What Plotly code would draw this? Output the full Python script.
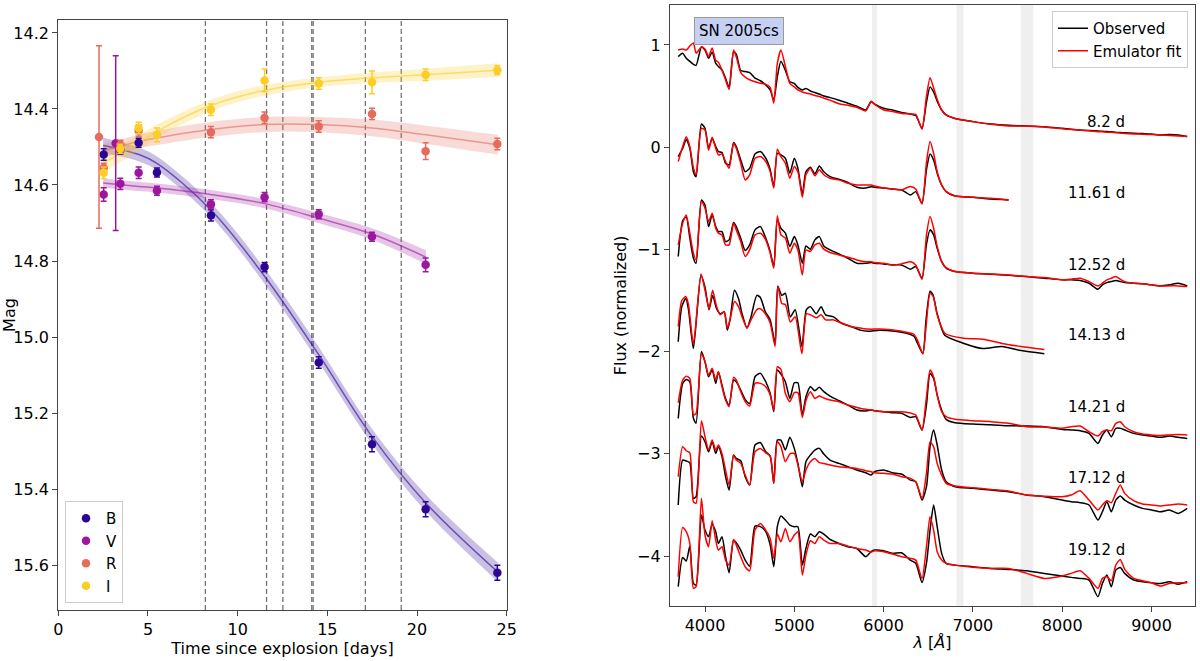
import plotly.graph_objects as go

# ---------------- light curves (left panel) ----------------
bands = ["B", "V", "R", "I"]
band_colors = {"B": (44, 5, 148), "V": (156, 23, 158), "R": (229, 107, 93), "I": (252, 205, 37)}

B_days = [2.53, 3.46, 4.48, 5.5, 8.51, 11.5, 14.52, 17.49, 20.48, 24.48]
B_mag = [14.52, 14.507, 14.489, 14.567, 14.68, 14.816, 15.067, 15.282, 15.453, 15.62]
B_err = [0.015, 0.012, 0.012, 0.012, 0.015, 0.012, 0.015, 0.02, 0.02, 0.02]

V_days = [2.53, 3.2, 3.46, 4.48, 5.5, 8.51, 11.5, 14.52, 17.49, 20.48]
V_mag = [14.625, 14.49, 14.597, 14.568, 14.615, 14.651, 14.632, 14.677, 14.736, 14.81]
V_err = [0.018, 0.23, 0.015, 0.015, 0.012, 0.012, 0.012, 0.012, 0.012, 0.018]

R_days = [2.27, 2.53, 3.46, 4.48, 8.51, 11.5, 14.52, 17.49, 20.48, 24.48]
R_mag = [14.474, 14.555, 14.494, 14.457, 14.461, 14.423, 14.446, 14.413, 14.511, 14.492]
R_err = [0.24, 0.012, 0.012, 0.015, 0.015, 0.015, 0.015, 0.015, 0.022, 0.015]

I_days = [2.53, 3.46, 4.48, 5.5, 8.51, 11.5, 14.52, 17.49, 20.48, 24.48]
I_mag = [14.568, 14.505, 14.45, 14.468, 14.402, 14.325, 14.333, 14.33, 14.31, 14.298]
I_err = [0.015, 0.012, 0.015, 0.018, 0.015, 0.03, 0.015, 0.03, 0.015, 0.012]

# emulator light-curve fits with 1-sigma half widths
fit_days = [2.5, 4.5, 5.5, 8.5, 11.5, 14.5, 17.5, 20.5, 24.5]
B_fit = [14.496, 14.52, 14.543, 14.665, 14.84, 15.045, 15.262, 15.437, 15.618]
B_sig = [0.02, 0.018, 0.018, 0.018, 0.02, 0.02, 0.02, 0.022, 0.025]
V_fit = [14.595, 14.604, 14.608, 14.625, 14.649, 14.687, 14.729, 14.79]
V_sig = [0.012, 0.012, 0.012, 0.012, 0.012, 0.013, 0.015, 0.018]
R_fit = [14.511, 14.485, 14.476, 14.454, 14.441, 14.441, 14.45, 14.468, 14.494]
R_sig = [0.018, 0.018, 0.019, 0.02, 0.02, 0.02, 0.022, 0.024, 0.026]
I_fit = [14.542, 14.489, 14.459, 14.391, 14.351, 14.33, 14.318, 14.31, 14.298]
I_sig = [0.025, 0.02, 0.018, 0.015, 0.014, 0.013, 0.014, 0.016, 0.018]

lc_obs = {"B": (B_days, B_mag, B_err), "V": (V_days, V_mag, V_err),
          "R": (R_days, R_mag, R_err), "I": (I_days, I_mag, I_err)}
lc_fit = {"B": (B_fit, B_sig), "V": (V_fit, V_sig), "R": (R_fit, R_sig), "I": (I_fit, I_sig)}

# spectral epochs (days since explosion)
spec_epochs = [8.2, 11.61, 12.52, 14.13, 14.21, 17.12, 19.12]
label_flux = [0.25, -0.45, -1.15, -1.84, -2.545, -3.24, -3.94]
telluric = [(5870, 5925), (6815, 6895), (7535, 7675)]

# ---------------- spectra (right panel) ----------------
wave = [3700, 3750, 3790, 3830, 3870, 3900, 3960, 4000, 4040, 4080, 4120, 4150, 4190, 4230,
        4270, 4320, 4350, 4400, 4450, 4500, 4560, 4620, 4680, 4730, 4770, 4810, 4850, 4900,
        4950, 5000, 5040, 5090, 5130, 5180, 5230, 5280, 5330, 5400, 5500,
        5600, 5700, 5800, 5860, 5900, 6000, 6100, 6200, 6300, 6360, 6430, 6480, 6520, 6560,
        6600, 6650, 6700, 6800, 7000, 7200, 7400,
        7600, 7800, 8000, 8100, 8200, 8300, 8400, 8450, 8500, 8550, 8600, 8650, 8700, 8800,
        8900, 9000, 9100, 9200, 9300, 9400]

obs_82 = [0.886, 0.918, 0.87, 0.84, 0.81, 0.80, 0.98, 0.95, 0.87, 0.93, 0.82, 0.79, 0.755, 0.675,
          0.585, 0.93, 0.91, 0.75, 0.74, 0.73, 0.675, 0.65, 0.61, 0.56, 0.46, 0.69, 0.84, 0.75,
          0.64, 0.625, 0.585, 0.56, 0.575, 0.55, 0.535, 0.52, 0.50, 0.485, 0.46,
          0.43, 0.40, 0.364, 0.445, 0.42, 0.38, 0.364, 0.34, 0.325, 0.31, 0.185, 0.44, 0.59, 0.54,
          0.45, 0.364, 0.315, 0.28, 0.25, 0.227, 0.214,
          0.207, 0.20, 0.184, 0.176, 0.168, 0.163, 0.158, 0.156, 0.153, 0.15, 0.146, 0.143, 0.14,
          0.136, 0.133, 0.13, 0.118, 0.125, 0.12, 0.104]
fit_82 = [0.95, 0.96, 0.95, 0.99, 1.02, 0.92, 0.98, 0.96, 0.885, 0.97, 0.85, 0.83, 0.755, 0.66,
          0.565, 0.95, 0.885, 0.73, 0.685, 0.66, 0.64, 0.625, 0.615, 0.585, 0.43, 0.82, 0.95, 0.79,
          0.625, 0.59, 0.56, 0.54, 0.53, 0.52, 0.505, 0.495, 0.48, 0.46, 0.425,
          0.41, 0.39, 0.355, 0.45, 0.42, 0.364, 0.35, 0.33, 0.325, 0.32, 0.175, 0.50, 0.68, 0.58,
          0.47, 0.364, 0.315, 0.28, 0.25, 0.224, 0.208,
          0.207, 0.198, 0.18, 0.173, 0.166, 0.16, 0.152, 0.15, 0.147, 0.145, 0.142, 0.138, 0.135,
          0.13, 0.127, 0.123, 0.12, 0.115, 0.11, 0.104]

obs_1161 = [-0.092, -0.011, 0.077, -0.011, -0.24, -0.29, 0.227, 0.185, -0.011, 0.087, 0.006, -0.043,
            -0.053, -0.157, -0.174, 0.045, 0.006, -0.125, -0.24, -0.206, -0.066, -0.043, -0.108,
            -0.22, -0.386, -0.06, -0.076, -0.108, -0.255, -0.108, -0.206, -0.46, -0.24, -0.197,
            -0.262, -0.184, -0.24, -0.288, -0.314,
            -0.346, -0.392, -0.40, -0.386, -0.392, -0.40, -0.41, -0.418, -0.467, -0.435, -0.55,
            -0.22, -0.066, -0.125, -0.255, -0.37, -0.435, -0.477, -0.49, -0.507, -0.516]
fit_1161 = [-0.141, 0.006, 0.103, 0.006, -0.2, -0.27, 0.185, 0.168, -0.03, 0.097, -0.011, -0.076,
            -0.066, -0.141, -0.206, 0.038, -0.011, -0.157, -0.32, -0.27, -0.108, -0.092, -0.141,
            -0.24, -0.40, -0.02, -0.092, -0.157, -0.304, -0.19, -0.24, -0.49, -0.27, -0.206, -0.28,
            -0.22, -0.27, -0.304, -0.32,
            -0.353, -0.37, -0.37, -0.37, -0.38, -0.40, -0.408, -0.418, -0.385, -0.41, -0.555,
            -0.15, 0.055, -0.06, -0.24, -0.37, -0.435, -0.477, -0.49, -0.50, -0.516]

obs_1252 = [-1.07, -0.72, -0.68, -0.89, -1.086, -1.135, -0.516, -0.565, -0.777, -0.663, -0.777,
            -0.826, -0.826, -0.924, -0.907, -0.738, -0.777, -0.89, -1.01, -0.956, -0.809, -0.777,
            -0.89, -1.021, -1.168, -0.71, -0.793, -0.842, -0.972, -0.875, -0.956, -1.135, -0.966,
            -0.998, -0.907, -0.875, -0.966, -1.005, -1.044,
            -1.087, -1.135, -1.135, -1.129, -1.135, -1.142, -1.152, -1.152, -1.194, -1.168, -1.282,
            -0.95, -0.809, -0.858, -0.989, -1.12, -1.184, -1.217, -1.233, -1.243, -1.253,
            -1.266, -1.282, -1.298, -1.298, -1.305, -1.331, -1.39, -1.347, -1.325, -1.315, -1.305,
            -1.315, -1.325, -1.331, -1.337, -1.347, -1.357, -1.347, -1.331, -1.357]
fit_1252 = [-0.956, -0.744, -0.663, -0.842, -1.038, -1.103, -0.532, -0.597, -0.728, -0.646, -0.793,
            -0.842, -0.858, -0.956, -0.956, -0.744, -0.809, -0.924, -1.07, -1.005, -0.858, -0.842,
            -0.907, -1.038, -1.184, -0.672, -0.858, -0.89, -1.038, -0.94, -1.005, -1.25, -1.005,
            -1.021, -0.956, -0.94, -0.998, -1.031, -1.054,
            -1.077, -1.103, -1.12, -1.12, -1.129, -1.135, -1.152, -1.142, -1.12, -1.152, -1.292,
            -0.86, -0.679, -0.793, -0.972, -1.12, -1.178, -1.217, -1.233, -1.24, -1.25,
            -1.266, -1.276, -1.298, -1.292, -1.282, -1.315, -1.357, -1.331, -1.298, -1.282, -1.266,
            -1.292, -1.315, -1.331, -1.337, -1.347, -1.357, -1.357, -1.357, -1.364]

# the 14.13 d spectrum was read on its own wavelength points
wave_1413 = [3700, 3740, 3785, 3815, 3870, 3955, 4000, 4045, 4085, 4130, 4170, 4215, 4250, 4280,
             4330, 4375, 4415, 4470, 4515, 4580, 4620, 4675, 4730, 4785, 4815, 4860, 4900, 4955,
             5010, 5085, 5135, 5180, 5245, 5300, 5350, 5440, 5525, 5650, 5740, 5825, 5955, 6125,
             6255, 6340, 6380, 6440, 6475, 6520, 6555, 6600, 6685, 6900, 7110, 7325, 7540, 7800]
obs_1413 = [-1.903, -1.56, -1.479, -1.59, -1.97, -1.25, -1.37, -1.59, -1.45, -1.58, -1.63, -1.61,
            -1.79, -1.69, -1.40, -1.48, -1.63, -1.77, -1.66, -1.45, -1.47, -1.61, -1.69, -1.92,
            -1.36, -1.45, -1.43, -1.66, -1.59, -1.95, -1.59, -1.56, -1.63, -1.56, -1.64, -1.66,
            -1.72, -1.76, -1.79, -1.80, -1.79, -1.80, -1.82, -1.85, -1.92, -2.02, -1.69, -1.41,
            -1.45, -1.63, -1.84, -1.92, -1.97, -1.95, -1.99, -2.02]
fit_1413 = [-1.756, -1.50, -1.46, -1.54, -1.93, -1.24, -1.40, -1.58, -1.40, -1.56, -1.64, -1.61,
            -1.77, -1.69, -1.51, -1.56, -1.66, -1.77, -1.69, -1.59, -1.58, -1.63, -1.72, -1.95,
            -1.36, -1.53, -1.54, -1.71, -1.66, -2.02, -1.63, -1.64, -1.67, -1.64, -1.69, -1.69,
            -1.72, -1.76, -1.77, -1.78, -1.78, -1.79, -1.81, -1.83, -1.89, -2.02, -1.76, -1.43,
            -1.46, -1.64, -1.82, -1.87, -1.88, -1.92, -1.95, -1.98]

obs_1421 = [-2.653, -2.311, -2.272, -2.295, -2.653, -2.70, -2.0, -2.099, -2.246, -2.18, -2.311,
            -2.197, -2.327, -2.458, -2.523, -2.278, -2.295, -2.376, -2.467, -2.507, -2.246, -2.213,
            -2.295, -2.409, -2.588, -2.18, -2.22, -2.295, -2.458, -2.305, -2.305, -2.62, -2.441,
            -2.343, -2.383, -2.35, -2.392, -2.435, -2.48,
            -2.523, -2.572, -2.58, -2.572, -2.578, -2.588, -2.598, -2.604, -2.644, -2.637, -2.767,
            -2.52, -2.213, -2.262, -2.425, -2.572, -2.663, -2.696, -2.709, -2.715, -2.725,
            -2.728, -2.735, -2.761, -2.767, -2.774, -2.80, -2.898, -2.816, -2.767, -2.833, -2.751,
            -2.751, -2.767, -2.80, -2.816, -2.826, -2.839, -2.826, -2.839, -2.849]
fit_1421 = [-2.50, -2.278, -2.24, -2.262, -2.62, -2.604, -2.024, -2.099, -2.229, -2.164, -2.278,
            -2.197, -2.343, -2.474, -2.539, -2.252, -2.278, -2.392, -2.49, -2.533, -2.311, -2.311,
            -2.343, -2.425, -2.572, -2.148, -2.174, -2.409, -2.49, -2.402, -2.402, -2.644, -2.48,
            -2.392, -2.458, -2.435, -2.454, -2.474, -2.49,
            -2.523, -2.546, -2.565, -2.572, -2.578, -2.588, -2.588, -2.588, -2.60, -2.62, -2.767,
            -2.44, -2.18, -2.246, -2.425, -2.588, -2.637, -2.663, -2.676, -2.686, -2.702,
            -2.735, -2.738, -2.751, -2.735, -2.728, -2.784, -2.826, -2.784, -2.767, -2.775, -2.702,
            -2.686, -2.735, -2.784, -2.807, -2.815, -2.82, -2.815, -2.812, -2.816]

obs_1712 = [-3.501, -3.061, -3.07, -3.087, -3.436, -3.42, -2.826, -2.882, -2.98, -2.882, -2.996,
            -2.93, -3.028, -3.224, -3.355, -3.012, -3.045, -3.068, -3.224, -3.306, -2.914, -2.89,
            -2.98, -3.022, -3.289, -2.865, -2.865, -2.963, -2.839, -2.947, -3.094, -3.322, -3.077,
            -3.012, -2.963, -2.947, -3.002, -3.061, -3.094,
            -3.126, -3.159, -3.185, -3.208, -3.175, -3.159, -3.185, -3.198, -3.257, -3.273, -3.453,
            -3.322, -2.93, -2.767, -2.914, -3.159, -3.273, -3.322, -3.338, -3.355, -3.371,
            -3.403, -3.42, -3.453, -3.469, -3.478, -3.501, -3.648, -3.567, -3.469, -3.567, -3.453,
            -3.413, -3.453, -3.501, -3.534, -3.55, -3.567, -3.55, -3.583, -3.534]
fit_1712 = [-3.224, -2.93, -2.97, -2.99, -3.469, -3.485, -2.676, -2.833, -2.963, -2.865, -2.963,
            -2.914, -2.996, -3.159, -3.306, -3.015, -3.061, -3.094, -3.208, -3.306, -2.98, -2.947,
            -2.99, -3.022, -3.289, -2.881, -2.93, -3.077, -3.002, -2.996, -3.11, -3.273, -3.159,
            -3.077, -3.045, -3.087, -3.094, -3.11, -3.126,
            -3.133, -3.143, -3.165, -3.175, -3.185, -3.191, -3.198, -3.224, -3.24, -3.273, -3.436,
            -3.19, -2.881, -2.93, -3.094, -3.208, -3.289, -3.315, -3.332, -3.348, -3.364,
            -3.403, -3.415, -3.42, -3.403, -3.361, -3.453, -3.55, -3.501, -3.459, -3.478, -3.387,
            -3.306, -3.387, -3.459, -3.492, -3.501, -3.511, -3.501, -3.492, -3.501]

obs_1912 = [-4.30, -4.014, -4.05, -3.903, -4.268, -4.285, -3.599, -3.746, -3.811, -3.688, -3.762,
            -3.877, -3.811, -4.007, -4.164, -3.844, -3.87, -3.942, -4.04, -4.099, -3.707, -3.713,
            -3.762, -3.893, -4.105, -3.713, -3.609, -3.648, -3.697, -3.713, -3.713, -4.089, -3.926,
            -3.785, -3.811, -3.762, -3.785, -3.838, -3.877,
            -3.909, -3.926, -4.007, -3.958, -3.942, -3.948, -3.974, -3.968, -4.04, -4.072, -4.26,
            -4.07, -3.746, -3.50, -3.713, -3.974, -4.072, -4.089, -4.105, -4.121, -4.131,
            -4.144, -4.17, -4.196, -4.209, -4.219, -4.235, -4.399, -4.268, -4.186, -4.301, -4.137,
            -4.112, -4.17, -4.235, -4.252, -4.262, -4.268, -4.252, -4.275, -4.252]
fit_1912 = [-4.203, -3.72, -3.762, -3.877, -4.317, -4.30, -3.436, -3.795, -3.909, -3.655, -3.844,
            -3.942, -3.909, -4.04, -4.089, -3.838, -3.893, -4.007, -4.105, -4.144, -3.746, -3.681,
            -3.746, -3.828, -4.023, -3.785, -3.86, -3.73, -3.86, -3.795, -3.762, -4.186, -3.991,
            -3.851, -3.877, -3.811, -3.844, -3.877, -3.877,
            -3.903, -3.926, -3.942, -3.962, -3.948, -3.958, -3.981, -4.007, -4.023, -4.04, -4.22,
            -3.909, -3.616, -3.746, -3.958, -4.04, -4.072, -4.089, -4.111, -4.121, -4.121,
            -4.17, -4.219, -4.196, -4.17, -4.144, -4.219, -4.317, -4.219, -4.203, -4.242, -4.089,
            -4.033, -4.131, -4.219, -4.242, -4.262, -4.294, -4.268, -4.262, -4.262]

spectra = [
    (wave, obs_82, fit_82),
    (wave, obs_1161, fit_1161),
    (wave, obs_1252, fit_1252),
    (wave_1413, obs_1413, fit_1413),
    (wave, obs_1421, fit_1421),
    (wave, obs_1712, fit_1712),
    (wave, obs_1912, fit_1912),
]

FONT = "DejaVu Sans"
W, H = 1200, 661


def rgba(c, a):
    return f"rgba({c[0]},{c[1]},{c[2]},{a})"


fig = go.Figure()

# light curve fits: shaded band + line
for b in bands:
    mag, sig = lc_fit[b]
    days = fit_days[: len(mag)]
    col = band_colors[b]
    lower = [m - s for m, s in zip(mag, sig)]
    upper = [m + s for m, s in zip(mag, sig)]
    fig.add_trace(go.Scatter(x=days, y=lower, mode="lines", line=dict(width=0, shape="spline"),
                             showlegend=False, hoverinfo="skip", xaxis="x", yaxis="y"))
    fig.add_trace(go.Scatter(x=days, y=upper, mode="lines", line=dict(width=0, shape="spline"),
                             fill="tonexty", fillcolor=rgba(col, 0.25), showlegend=False,
                             hoverinfo="skip", xaxis="x", yaxis="y"))
    fig.add_trace(go.Scatter(x=days, y=mag, mode="lines",
                             line=dict(color=rgba(col, 0.6), width=1.5, shape="spline"),
                             showlegend=False, xaxis="x", yaxis="y"))

# light curve observations
for b in bands:
    d, m, e = lc_obs[b]
    col = rgba(band_colors[b], 1)
    fig.add_trace(go.Scatter(
        x=d, y=m, mode="markers", name=b,
        marker=dict(color=col, size=8.5),
        error_y=dict(type="data", array=e, color=col, thickness=1.5, width=3),
        xaxis="x", yaxis="y", legend="legend"))

# spectra
for i, (wl, obs, fit) in enumerate(spectra):
    fig.add_trace(go.Scatter(x=wl[: len(obs)], y=obs, mode="lines", name="Observed",
                             line=dict(color="black", width=1.5, shape="spline", smoothing=0.6),
                             showlegend=(i == 0), legend="legend2", xaxis="x2", yaxis="y2"))
for i, (wl, obs, fit) in enumerate(spectra):
    fig.add_trace(go.Scatter(x=wl[: len(fit)], y=fit, mode="lines", name="Emulator fit",
                             line=dict(color="red", width=1.5, shape="spline", smoothing=0.6),
                             showlegend=(i == 0), legend="legend2", xaxis="x2", yaxis="y2"))

shapes = []
for ep in spec_epochs:
    shapes.append(dict(type="line", xref="x", yref="y domain", x0=ep, x1=ep, y0=0, y1=1,
                       line=dict(color="rgba(90,90,90,0.85)", width=1.3, dash="5px,3px"),
                       layer="below"))
for lo, hi in telluric:
    shapes.append(dict(type="rect", xref="x2", yref="y2 domain", x0=lo, x1=hi, y0=0, y1=1,
                       fillcolor="#efefef", line=dict(width=0), layer="below"))

annotations = []
for ep, yl in zip(spec_epochs, label_flux):
    annotations.append(dict(x=8720, y=yl, xref="x2", yref="y2", text=f"{ep} d",
                            showarrow=False, xanchor="right", yanchor="middle",
                            font=dict(family=FONT, size=15, color="black")))
annotations.append(dict(x=4386, y=1.139, xref="x2", yref="y2", text="SN 2005cs",
                        showarrow=False, font=dict(family=FONT, size=15, color="black"),
                        bgcolor="#c6d0f3", bordercolor="#9a9a9a", borderwidth=1, borderpad=4))

axis_common = dict(showline=True, mirror=True, linecolor="#444", linewidth=1.3,
                   ticks="outside", ticklen=5, tickwidth=1.2, tickcolor="#444",
                   showgrid=False, zeroline=False, automargin=False,
                   tickfont=dict(family=FONT, size=16, color="black"))

fig.update_layout(
    width=W, height=H,
    margin=dict(l=0, r=0, t=0, b=0),
    paper_bgcolor="white", plot_bgcolor="white",
    font=dict(family=FONT, size=16, color="black"),
    xaxis=dict(domain=[58.3 / W, 506.7 / W], range=[0, 25], tickvals=[0, 5, 10, 15, 20, 25],
               title=dict(text="Time since explosion [days]", standoff=2,
                          font=dict(family=FONT, size=16)),
               anchor="y", **axis_common),
    yaxis=dict(domain=[1 - 610 / H, 1 - 20 / H], range=[15.718, 14.166],
               tickvals=[14.2, 14.4, 14.6, 14.8, 15.0, 15.2, 15.4, 15.6], tickformat=".1f",
               title=dict(text="Mag", standoff=6, font=dict(family=FONT, size=16)),
               anchor="x", **axis_common),
    xaxis2=dict(domain=[670 / W, 1195 / W], range=[3608, 9487],
                tickvals=[4000, 5000, 6000, 7000, 8000, 9000],
                title=dict(text="<i>λ</i> [<i>Å</i>]", standoff=2, font=dict(family=FONT, size=16)),
                anchor="y2", **axis_common),
    yaxis2=dict(domain=[1 - 606 / H, 1 - 4.7 / H], range=[-4.489, 1.394],
                tickvals=[-4, -3, -2, -1, 0, 1],
                title=dict(text="Flux (normalized)", standoff=6, font=dict(family=FONT, size=16)),
                anchor="x2", **axis_common),
    legend=dict(x=65 / W, y=1 - 603 / H, xanchor="left", yanchor="bottom",
                traceorder="normal",
                bgcolor="white", bordercolor="#cccccc", borderwidth=1,
                font=dict(family=FONT, size=15)),
    legend2=dict(x=1188 / W, y=1 - 11 / H, xanchor="right", yanchor="top",
                 traceorder="normal",
                 bgcolor="white", bordercolor="#cccccc", borderwidth=1,
                 font=dict(family=FONT, size=15)),
    shapes=shapes,
    annotations=annotations,
    showlegend=True,
)

# drop the browser's default body margin so the figure sits at the page origin
fig.write_html("out.html", config={"displayModeBar": False},
               post_script="document.body.style.margin='0px';")
